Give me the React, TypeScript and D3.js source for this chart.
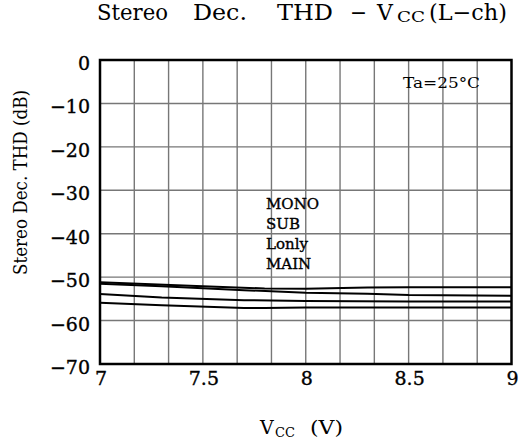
import React from "react";
import * as d3 from "d3";

const W = 524;
const H = 445;

const xTicks = [7, 7.5, 8, 8.5, 9];
const yTicks = [0, -10, -20, -30, -40, -50, -60, -70];
const xGrid = d3.range(0, 13).map((i) => 7 + i / 6);

const seriesNames = ["MONO", "SUB", "Lonly", "MAIN"];
const monoX = [7.0, 7.5, 7.8, 8.0, 8.3, 8.5, 9.0];
const monoY = [-51.2, -52.1, -52.6, -52.7, -52.4, -52.3, -52.3];
const subX = [7.0, 7.3, 7.7, 8.0, 8.3, 8.5, 9.0];
const subY = [-51.5, -52.1, -53.0, -53.6, -53.8, -54.1, -54.3];
const lonlyX = [7.0, 7.3, 7.7, 8.0, 8.5, 9.0];
const lonlyY = [-53.9, -54.7, -55.3, -55.5, -55.6, -55.6];
const mainX = [7.0, 7.3, 7.7, 7.8, 8.0, 9.0];
const mainY = [-55.9, -56.5, -57.1, -57.1, -57.0, -57.0];

const seriesX = [monoX, subX, lonlyX, mainX];
const seriesY = [monoY, subY, lonlyY, mainY];

const titleWords = ["Stereo", "Dec.", "THD", "−"];
const titleWordX = [97, 193, 277, 350];
const titleWordW = [71, 54, 56, 17];

const FONT = "'DejaVu Serif', serif";

export default function App() {
  const left = 100;
  const right = 511.5;
  const top = 60;
  const bottom = 364;

  const x = d3.scaleLinear().domain([7, 9]).range([left, right]);
  const y = d3.scaleLinear().domain([-70, 0]).range([bottom, top]);

  const line = d3
    .line<[number, number]>()
    .x((d) => x(d[0]))
    .y((d) => y(d[1]));

  const heavy = { stroke: "#000", strokeWidth: 0.35 };

  return (
    <svg
      width={W}
      height={H}
      style={{ position: "absolute", left: 0, top: 0, background: "#fff" }}
      fontFamily={FONT}
    >
      <rect x={0} y={0} width={W} height={H} fill="#fff" />
      {/* Title */}
      {titleWords.map((w, i) => (
        <text
          key={"tw" + i}
          x={titleWordX[i]}
          y={20}
          fontSize={22}
          fill="#000"
          textLength={titleWordW[i]}
          lengthAdjust="spacingAndGlyphs"
        >
          {w}
        </text>
      ))}
      <text x={377} y={20} fontSize={22} fill="#000">V</text>
      <text x={397} y={22} fontSize={15} fill="#000" textLength={28} lengthAdjust="spacingAndGlyphs">CC</text>
      <text x={429} y={20} fontSize={22} fill="#000" textLength={78} lengthAdjust="spacingAndGlyphs">
        (L−ch)
      </text>

      {/* grid */}
      {xGrid.slice(1, -1).map((v, i) => (
        <line key={"gx" + i} x1={x(v)} x2={x(v)} y1={top} y2={bottom} stroke="#777" strokeWidth={1.4} />
      ))}
      {yTicks.slice(1, -1).map((v, i) => (
        <line key={"gy" + i} x1={left} x2={right} y1={y(v)} y2={y(v)} stroke="#777" strokeWidth={1.4} />
      ))}

      {/* series */}
      {seriesX.map((xs, si) => (
        <path
          key={seriesNames[si]}
          d={line(xs.map((v, i) => [v, seriesY[si][i]] as [number, number])) || ""}
          fill="none"
          stroke="#000"
          strokeWidth={2}
        />
      ))}

      {/* frame */}
      <rect x={left} y={top} width={right - left} height={bottom - top} fill="none" stroke="#000" strokeWidth={2.5} />

      {/* y ticks */}
      {yTicks.map((v) => (
        <text key={"yt" + v} x={90} y={y(v) + 10} fontSize={19} textAnchor="end" fill="#000" {...heavy}>
          {v === 0 ? "0" : "−" + Math.abs(v)}
        </text>
      ))}
      {/* x ticks */}
      {xTicks.map((v) => (
        <text key={"xt" + v} x={x(v) + 1} y={385} fontSize={19} textAnchor="middle" fill="#000" {...heavy}>
          {String(v)}
        </text>
      ))}

      {/* x label */}
      <text x={260} y={434} fontSize={19} fill="#000">V</text>
      <text x={275} y={437} fontSize={13} fill="#000">CC</text>
      <text x={310} y={434} fontSize={19} fill="#000" textLength={33} lengthAdjust="spacingAndGlyphs">(V)</text>

      {/* y label */}
      <text
        transform="translate(27,182.5) rotate(-90)"
        fontSize={18}
        textAnchor="middle"
        fill="#000"
        textLength={185}
        lengthAdjust="spacingAndGlyphs"
      >
        Stereo  Dec.  THD  (dB)
      </text>

      {/* annotation */}
      <text x={403} y={88} fontSize={15} fill="#000" textLength={77} lengthAdjust="spacingAndGlyphs">
        Ta=25°C
      </text>

      {/* legend names */}
      {seriesNames.map((n, i) => (
        <text key={"ln" + n} x={266} y={209 + i * 20} fontSize={15} fill="#000" {...heavy}>
          {n}
        </text>
      ))}
    </svg>
  );
}
